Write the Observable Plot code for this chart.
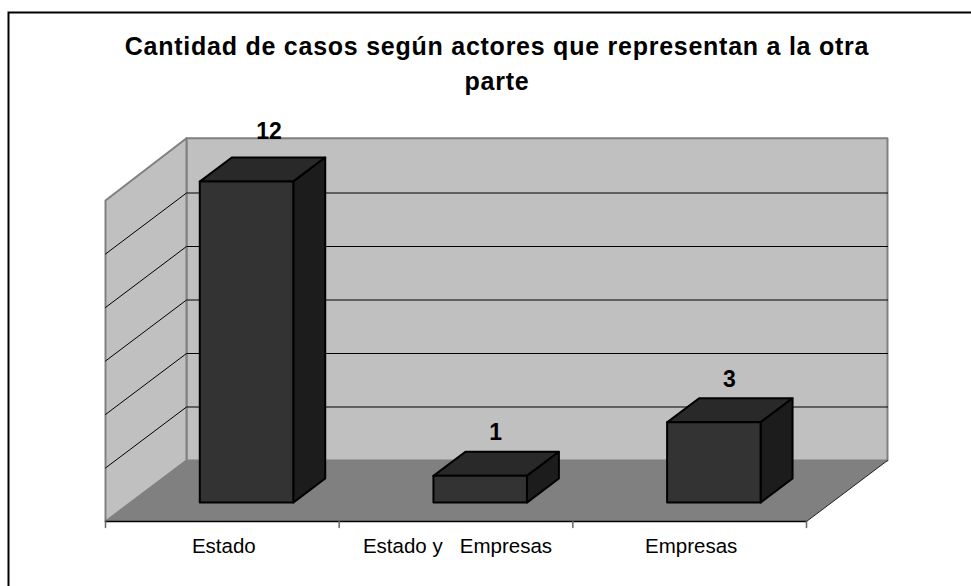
<!DOCTYPE html>
<html lang="es">
<head>
<meta charset="utf-8">
<script src="https://cdn.jsdelivr.net/npm/d3@7"></script>
<script src="https://cdn.jsdelivr.net/npm/@observablehq/plot@0.6"></script>
<style>
html,body{margin:0;padding:0;background:#fff;overflow:hidden}
</style>
</head>
<body>
<div id="chart"></div>
<script>
const titleLines = ["Cantidad de casos según actores que representan a la otra", "parte"];
const categories = ["Estado", "Estado y   Empresas", "Empresas"];
const values = [12, 1, 3];
const gridValues = [2, 4, 6, 8, 10];
const slotEdges = [0, 1, 2, 3];
const yMax = 12;

// oblique projection of the 3-D box: a full step of depth moves this far in data units
const depthX = 0.3466;
const depthY = 2.28;
const barFrontDepth = 0.31;
const barBackDepth = 0.705;
const barWidth = 0.4;
const wallTop = 12.05;
const wallGrey = "#c0c0c0", floorGrey = "#808080", edgeGrey = "#808080";
const barFront = "#333333", barTop = "#292929", barSide = "#1c1c1c";

const p = (cat, val, depth = 0) => ({x: cat + depth * depthX, y: val + depth * depthY});
const face = (pts, fill, stroke, strokeWidth) =>
  Plot.line(pts, {x: "x", y: "y", curve: "linear-closed", fill, stroke, strokeWidth});
const seg = (pts, stroke, strokeWidth = 1) =>
  Plot.line(pts, {x: "x", y: "y", stroke, strokeWidth});

const nCat = categories.length;
const marks = [
  Plot.frame({stroke: "#000", strokeWidth: 2, insetLeft: -97, insetTop: -188, insetRight: -300, insetBottom: -300}),
  // walls and floor
  face([p(0, 0, 1), p(nCat, 0, 1), p(nCat, wallTop, 1), p(0, wallTop, 1)], wallGrey, edgeGrey, 2),
  face([p(0, 0, 0), p(0, yMax, 0), p(0, wallTop, 1), p(0, 0, 1)], wallGrey, edgeGrey, 2),
  face([p(0, 0, 0), p(nCat, 0, 0), p(nCat, 0, 1), p(0, 0, 1)], floorGrey, "none", 0),
  seg([p(nCat, 0, 0), p(nCat, 0, 1)], "#222", 1),
  seg([p(0, 0, 0), p(nCat, 0, 0)], "#000", 1.5),
  // gridlines
  ...gridValues.map(v => seg([p(0, v, 0), p(0, v, 1), p(nCat, v, 1)], "#000", 1)),
  // ticks
  ...slotEdges.map(c => seg([{x: c, y: 0}, {x: c, y: -0.22}], "#666", 1.5)),
  // bars
  ...values.flatMap((v, i) => {
    const l = i + (1 - barWidth) / 2 - 0.004, r = l + barWidth;
    const f = barFrontDepth, b = barBackDepth;
    return [
      face([p(l, v, f), p(r, v, f), p(r, v, b), p(l, v, b)], barTop, "#000", 2),
      face([p(r, 0, f), p(r, 0, b), p(r, v, b), p(r, v, f)], barSide, "#000", 2),
      face([p(l, 0, f), p(r, 0, f), p(r, v, f), p(l, v, f)], barFront, "#000", 2)
    ];
  }),
  // value labels
  Plot.text(values, {
    x: (v, i) => i + 0.67 + (v === yMax ? 0.03 : 0),
    y: v => v + barBackDepth * depthY + (v === yMax ? 0.26 : 0),
    text: v => String(v),
    dy: -19, fontSize: 23, fontWeight: "bold", fill: "#000", lineAnchor: "middle"
  }),
  // category labels
  Plot.text(categories, {
    x: (d, i) => i + 0.5,
    y: () => 0,
    text: d => d,
    dx: 1.5, dy: 25, fontSize: 20.5, fill: "#000", lineAnchor: "middle"
  }),
  // title
  Plot.text([titleLines[0]], {frameAnchor: "top", text: d => d, dx: 41, dy: -154, lineAnchor: "middle",
    fontSize: 25, fontWeight: "bold", fill: "#000"}),
  Plot.text([titleLines[1]], {frameAnchor: "top", text: d => d, dx: 41, dy: -119, lineAnchor: "middle",
    fontSize: 25, fontWeight: "bold", fill: "#000"})
];

const chart = Plot.plot({
  width: 971,
  height: 586,
  marginLeft: 105,
  marginRight: 165,
  marginTop: 200,
  marginBottom: 65,
  x: {domain: [0, nCat], axis: null},
  y: {domain: [0, yMax], axis: null},
  style: {fontFamily: "'Liberation Sans', Arial, sans-serif", background: "#fff"},
  marks
});
for (const t of chart.querySelectorAll("text")) {
  if (titleLines.includes(t.textContent)) t.style.letterSpacing = "0.75px";
}
document.getElementById("chart").appendChild(chart);
</script>
</body>
</html>
